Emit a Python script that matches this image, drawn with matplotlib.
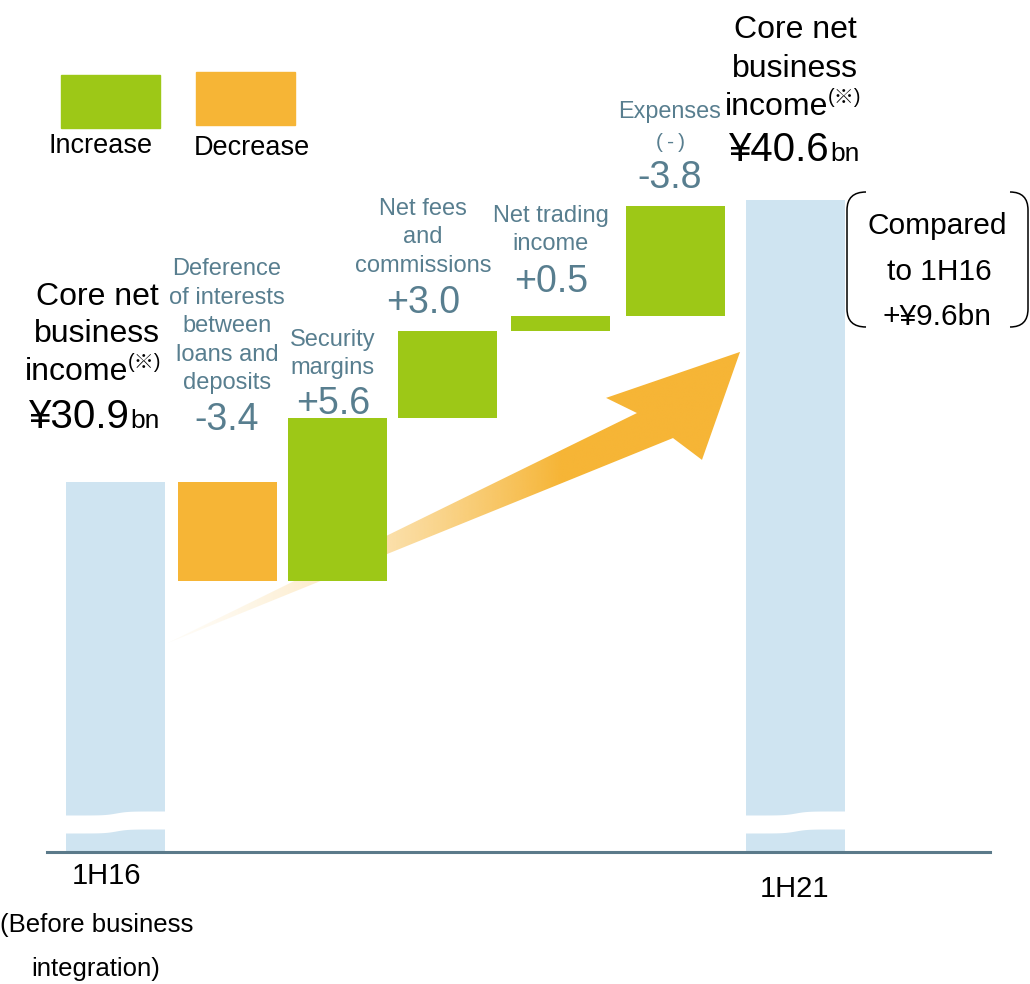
import numpy as np
import matplotlib.pyplot as plt
from matplotlib.patches import Rectangle, Polygon, PathPatch
from matplotlib.path import Path
from matplotlib.transforms import Affine2D

plt.rcParams['font.family'] = ['Liberation Sans', 'Noto Sans CJK JP', 'DejaVu Sans']

# data
start_value = 30.9
end_value = 40.6
step_deltas = [-3.4, 5.6, 3.0, 0.5, 3.8]
step_labels = ["-3.4", "+5.6", "+3.0", "+0.5", "-3.8"]
diff_label = "+¥9.6bn"
period_labels = ["1H16", "1H21"]

GREEN = '#9dc817'
ORANGE = '#f6b536'
BLUE = '#cfe4f1'
SLATE = '#587e8f'
AXIS = '#5b7a8a'

W, H = 1030, 984
fig = plt.figure(figsize=(W / 100, H / 100), dpi=100)
# image pixel coords (origin top-left) for the annotations
px = Affine2D().scale(1 / W, -1 / H).translate(0, 1) + fig.transFigure

ax = fig.add_axes([47 / W, 1 - 852 / H, 943 / W, 852 / H])
s = 29.1  # pixels per unit
ymin = 18.185
ymax = ymin + 852 / s
xmin, xmax = -0.609, 7.717

# waterfall (bar slots as laid out in the slide)
xs = [0, 0.985, 1.955, 2.925, 3.925, 4.94, 6.0]
bw = 0.874
ax.bar(xs[0], start_value - ymin, bottom=ymin, width=bw, color=BLUE, zorder=2)
ax.bar(xs[-1], end_value - ymin, bottom=ymin, width=bw, color=BLUE, zorder=2)
level = start_value
for i, d in enumerate(step_deltas):
    lo, hi = sorted([level, level + d])
    ax.bar(xs[i + 1], hi - lo, bottom=lo, width=bw,
           color=GREEN if d > 0 else ORANGE, zorder=3)
    level += d

# axis break on the end bars
for xc in (xs[0], xs[-1]):
    xx = np.linspace(xc - bw / 2 - 0.02, xc + bw / 2 + 0.02, 200)
    sig = 1 / (1 + np.exp(-(xx - xc) / 0.05))
    top = ymin + (37 + 4 * sig) / s
    bot = ymin + (19 + 4 * sig) / s
    ax.fill_between(xx, bot, top, color='white', lw=0, zorder=4)

# gradient arrow
arrow = np.array([[0.459, 25.37], [4.600, 33.27], [4.327, 33.79], [5.510, 35.37],
                  [5.174, 31.66], [4.918, 32.41]])
poly = Polygon(arrow, closed=True, facecolor='none', edgecolor='none')
ax.add_patch(poly)
gx = np.linspace(arrow[:, 0].min(), arrow[:, 0].max(), 400)
t = np.clip((gx - 0.459) / (3.92 - 0.459), 0, 1)
alpha = 0.05 + 0.95 * t ** 1.6
img = np.zeros((2, len(gx), 4))
img[..., :3] = np.array([0xf6, 0xb5, 0x36]) / 255
img[..., 3] = alpha
im = ax.imshow(img, extent=[gx[0], gx[-1], arrow[:, 1].min(), arrow[:, 1].max()],
               origin='lower', aspect='auto', zorder=1, interpolation='bilinear')
im.set_clip_path(poly)

ax.set_xlim(xmin, xmax)
ax.set_ylim(ymin, ymax)
for sp in ['top', 'left', 'right']:
    ax.spines[sp].set_visible(False)
ax.spines['bottom'].set_color(AXIS)
ax.spines['bottom'].set_linewidth(2.2)
ax.set_xticks([])
ax.set_yticks([])


def txt(x, y, s_, size, color='black', ha='center'):
    fig.text(x, y, s_, transform=px, fontsize=size, color=color,
             ha=ha, va='baseline')


# category labels
txt(227, 275, "Deference", 17, SLATE)
txt(227, 304, "of interests", 17, SLATE)
txt(227, 332, "between", 17, SLATE)
txt(227, 361, "loans and", 17, SLATE)
txt(227, 389, "deposits", 17, SLATE)
txt(333, 346, "Security", 17, SLATE)
txt(333, 374, "margins", 17, SLATE)
txt(423, 215, "Net fees", 17, SLATE)
txt(423, 243, "and", 17, SLATE)
txt(423, 272, "commissions", 17, SLATE)
txt(551, 222, "Net trading", 17, SLATE)
txt(551, 250, "income", 17, SLATE)
txt(670, 118, "Expenses", 16.8, SLATE)
txt(670, 148, "(\u2009-\u2009)", 15, SLATE)

value_pos = [(227, 430), (333, 414), (423, 313), (551, 292), (670, 188)]
for (vx, vy), lab in zip(value_pos, step_labels):
    txt(vx, vy, lab, 27, SLATE)

# totals
txt(97, 305, "Core net", 23)
txt(97, 342, "business", 23)
txt(128, 380, "income", 23, ha='right')
txt(128, 368, "(※)", 14.5, ha='left')
txt(130, 428, "¥%.1f" % start_value, 29, ha='right')
txt(130, 428, "bn", 19, ha='left')

txt(795, 38, "Core net", 23)
txt(795, 77, "business", 23)
txt(828, 115, "income", 23, ha='right')
txt(828, 103, "(※)", 14.5, ha='left')
txt(830, 161, "¥%.1f" % end_value, 29, ha='right')
txt(830, 161, "bn", 19, ha='left')

# period labels
txt(107, 884, period_labels[0], 21)
txt(97, 932, "(Before business", 18.5)
txt(96, 976, "integration)", 18.5)
txt(794, 897, period_labels[1], 21)

# legend
fig.patches.append(Rectangle((61, 75), 99, 53, transform=px, color=GREEN))
fig.patches.append(Rectangle((196, 72), 99, 53, transform=px, color=ORANGE))
txt(101, 153, "Increase", 19.5)
txt(252, 155, "Decrease", 19.5)

# comparison bracket
txt(937, 234, "Compared", 21.5)
txt(939, 280, "to 1H16", 21.5)
txt(937, 325, diff_label, 21.5)
r = 18
for x_in, x_out in ((866, 847), (1010, 1028)):
    verts = [(x_in, 192), (x_out, 192), (x_out, 192 + r),
             (x_out, 327 - r), (x_out, 327), (x_in, 327)]
    codes = [Path.MOVETO, Path.CURVE3, Path.CURVE3,
             Path.LINETO, Path.CURVE3, Path.CURVE3]
    fig.patches.append(PathPatch(Path(verts, codes), transform=px,
                                 facecolor='none', edgecolor='black', lw=1.1))

fig.savefig('out.png', dpi=100)
